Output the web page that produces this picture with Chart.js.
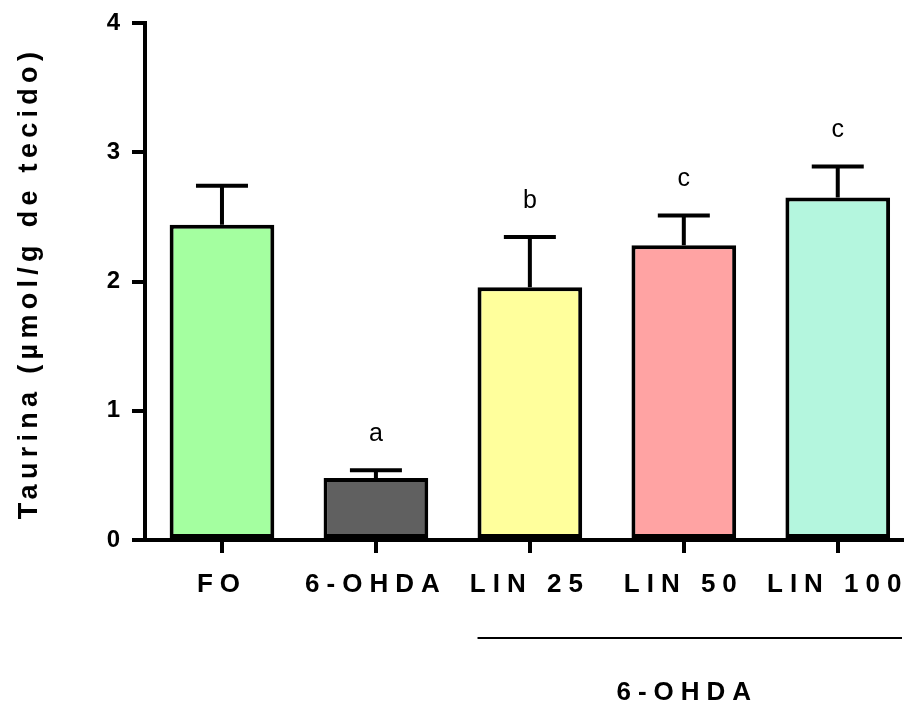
<!DOCTYPE html>
<html>
<head>
<meta charset="utf-8">
<script src="https://cdn.jsdelivr.net/npm/chart.js@4.4.0/dist/chart.umd.min.js"></script>
<style>
  html, body { margin: 0; padding: 0; background: #fff; overflow: hidden; }
  #wrap { width: 925px; height: 706px; }
</style>
</head>
<body>
<div id="wrap"><canvas id="chart"></canvas></div>
<script>
// grupos e valores (média + erro padrão)
const grupos = ['FO', '6-OHDA', 'LIN 25', 'LIN 50', 'LIN 100'];
const medias = [2.44, 0.48, 1.955, 2.28, 2.65];
const erros = [0.30, 0.06, 0.39, 0.23, 0.24];
const letras = ['', 'a', 'b', 'c', 'c'];
const cores = ['#a4ffa0', '#606060', '#ffff9c', '#ffa3a3', '#b4f6de'];
const yTicks = [0, 1, 2, 3, 4];
const tituloY = 'Taurina (µmol/g de tecido)';

const FONTE = '"Liberation Sans", Arial, sans-serif';

// espaçamento entre letras nos rótulos do eixo x
const espacamento = {
    id: 'espacamento',
    beforeUpdate(chart) { chart.ctx.letterSpacing = '7px'; },
    beforeDraw(chart) { chart.ctx.letterSpacing = '7px'; }
};

// barras de erro, letras, título do eixo y e chave do grupo 6-OHDA
const extras = {
    id: 'extras',
    afterDatasetsDraw(chart) {
        const ctx = chart.ctx;
        const x = chart.scales.x, y = chart.scales.y;
        ctx.save();
        ctx.letterSpacing = '0px';
        ctx.strokeStyle = '#000';
        ctx.lineWidth = 4;
        medias.forEach((m, i) => {
            const cx = x.getPixelForValue(i);
            const yb = y.getPixelForValue(m);
            const ye = y.getPixelForValue(m + erros[i]);
            ctx.beginPath();
            ctx.moveTo(cx, yb);
            ctx.lineTo(cx, ye);
            ctx.moveTo(cx - 26, ye);
            ctx.lineTo(cx + 26, ye);
            ctx.stroke();
            if (letras[i]) {
                ctx.fillStyle = '#000';
                ctx.font = '25px ' + FONTE;
                ctx.textAlign = 'center';
                ctx.textBaseline = 'middle';
                ctx.fillText(letras[i], cx, ye - 36);
            }
        });
        ctx.restore();
    },
    afterDraw(chart) {
        const ctx = chart.ctx;
        const x = chart.scales.x, y = chart.scales.y;
        const bar = chart.getDatasetMeta(0).data[2];
        ctx.save();
        ctx.strokeStyle = '#000';
        ctx.lineWidth = 2;
        ctx.beginPath();
        ctx.moveTo(bar.x - bar.width / 2, 638);
        ctx.lineTo(902, 638);
        ctx.stroke();
        ctx.fillStyle = '#000';
        ctx.font = 'bold 26px ' + FONTE;
        ctx.letterSpacing = '7px';
        ctx.textAlign = 'center';
        ctx.textBaseline = 'middle';
        ctx.fillText('6-OHDA', x.getPixelForValue(3) + 3.5, 693);

        // título do eixo y
        ctx.letterSpacing = '5.3px';
        ctx.font = 'bold 27px ' + FONTE;
        ctx.textBaseline = 'alphabetic';
        ctx.translate(37, (y.top + y.bottom) / 2 + 4);
        ctx.rotate(-Math.PI / 2);
        ctx.fillText(tituloY, 2.5, 0);
        ctx.restore();
    }
};

new Chart(document.getElementById('chart'), {
    type: 'bar',
    data: {
        labels: grupos,
        datasets: [{
            data: medias,
            backgroundColor: cores,
            borderColor: '#000',
            borderWidth: 4,
            borderSkipped: false,
            barPercentage: 0.68,
            categoryPercentage: 1
        }]
    },
    options: {
        responsive: true,
        maintainAspectRatio: false,
        animation: false,
        layout: { padding: { top: 23, right: 5, left: 0, bottom: 0 } },
        plugins: { legend: { display: false }, tooltip: { enabled: false } },
        scales: {
            x: {
                offset: true,
                grid: { drawOnChartArea: false, drawTicks: true, tickLength: 13, color: '#000', lineWidth: 4, offset: false },
                border: { display: true, color: '#000', width: 4 },
                ticks: { color: '#000', font: { family: FONTE, size: 26, weight: 'bold' }, padding: 16, maxRotation: 0, autoSkip: false },
                afterFit(s) { s.height = 166; }
            },
            y: {
                min: 0,
                max: 4,
                afterBuildTicks(s) { s.ticks = yTicks.map(v => ({ value: v })); },
                grid: { drawOnChartArea: false, drawTicks: true, tickLength: 13, color: '#000', lineWidth: 4 },
                border: { display: true, color: '#000', width: 4 },
                ticks: { color: '#000', font: { family: FONTE, size: 24, weight: 'bold' }, padding: 5 },
                afterFit(s) { s.width = 145; }
            }
        }
    },
    plugins: [espacamento, extras]
});
</script>
</body>
</html>
